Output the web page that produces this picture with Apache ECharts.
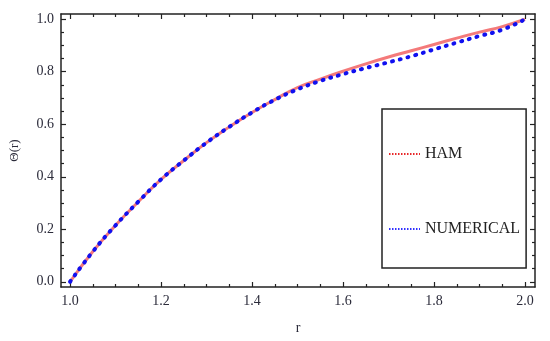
<!DOCTYPE html>
<html>
<head>
<meta charset="utf-8">
<script src="https://cdn.jsdelivr.net/npm/echarts@6/dist/echarts.min.js"></script>
<style>html,body{margin:0;padding:0;background:#fff}#c{width:550px;height:341px}</style>
</head>
<body>
<div id="c"></div>
<script>
// ---- data ----
var rValues = [1.00,1.05,1.10,1.15,1.20,1.25,1.30,1.35,1.40,1.45,1.50,1.55,1.60,1.65,1.70,1.75,1.80,1.85,1.90,1.95,2.00];
var hamValues = [0.000,0.115,0.215,0.305,0.390,0.462,0.530,0.590,0.645,0.694,0.740,0.772,0.802,0.830,0.856,0.880,0.904,0.928,0.951,0.972,1.000];
var numericalValues = [0.000,0.115,0.215,0.305,0.390,0.462,0.530,0.590,0.645,0.693,0.733,0.765,0.791,0.814,0.836,0.859,0.885,0.911,0.936,0.960,1.000];
var xMajorTicks = [1.0,1.2,1.4,1.6,1.8,2.0];
var xMinorTicks = [1.05,1.1,1.15,1.25,1.3,1.35,1.45,1.5,1.55,1.65,1.7,1.75,1.85,1.9,1.95];
var yMajorTicks = [0.0,0.2,0.4,0.6,0.8,1.0];
var yMinorTicks = [0.05,0.1,0.15,0.25,0.3,0.35,0.45,0.5,0.55,0.65,0.7,0.75,0.85,0.9,0.95];
var seriesNames = ['HAM','NUMERICAL'];
var xName = 'r';
var yName = '\u0398(r)';

function pairs(xs, ys){ return xs.map(function(x,i){ return [x, ys[i]]; }); }

var FONT = 'Liberation Serif';
var TXT = '#2b2b3a';
var LINE = '#222';
var XMIN = 0.98, XMAX = 2.022, YMIN = -0.02, YMAX = 1.02;

function xAxisDef(pos, major, labels, name){
  return {
    type:'value', position:pos, min:XMIN, max:XMAX, gridIndex:0,
    name: name || '', nameLocation:'middle', nameGap:34,
    nameTextStyle:{fontFamily:FONT, fontSize:14, color:TXT},
    axisLine:{show:major, onZero:false, lineStyle:{color:LINE, width:1.5}},
    axisTick:{show:true, inside:true, length: major?5:3, customValues: major?xMajorTicks:xMinorTicks, lineStyle:{color:LINE, width:1.2}},
    axisLabel:{show:labels, customValues:xMajorTicks, margin:7, fontFamily:FONT, fontSize:14, color:TXT,
      formatter:function(v){ return v.toFixed(1); }},
    splitLine:{show:false}
  };
}
function yAxisDef(pos, major, labels, name){
  return {
    type:'value', position:pos, min:YMIN, max:YMAX, gridIndex:0,
    name: name || '', nameLocation:'middle', nameGap:40, nameRotate:90,
    nameTextStyle:{fontFamily:FONT, fontSize:13, color:TXT},
    axisLine:{show:major, onZero:false, lineStyle:{color:LINE, width:1.5}},
    axisTick:{show:true, inside:true, length: major?5:3, customValues: major?yMajorTicks:yMinorTicks, lineStyle:{color:LINE, width:1.2}},
    axisLabel:{show:labels, customValues:yMajorTicks, margin:7, fontFamily:FONT, fontSize:14, color:TXT,
      formatter:function(v){ return v.toFixed(1); }},
    splitLine:{show:false}
  };
}

var chart = echarts.init(document.getElementById('c'), null, {renderer:'canvas'});
chart.setOption({
  animation:false,
  backgroundColor:'#fff',
  grid:{left:60, top:14, right:15, bottom:54},
  xAxis:[
    xAxisDef('bottom', true, true, xName),
    xAxisDef('bottom', false, false),
    xAxisDef('top', true, false),
    xAxisDef('top', false, false)
  ],
  yAxis:[
    yAxisDef('left', true, true, yName),
    yAxisDef('left', false, false),
    yAxisDef('right', true, false),
    yAxisDef('right', false, false)
  ],
  legend:{
    orient:'vertical', left:382, top:109,
    padding:[37,6,31,6], itemGap:59,
    itemWidth:31, itemHeight:14,
    borderColor:'#222', borderWidth:1.5, backgroundColor:'#fff',
    textStyle:{fontFamily:FONT, fontSize:16, color:'#222'},
    data:[
      {name:seriesNames[0], itemStyle:{color:'rgba(0,0,0,0)', borderWidth:0, opacity:0}, lineStyle:{color:'#e8282a', width:2, type:[1.5,1.5], cap:'butt'}},
      {name:seriesNames[1], itemStyle:{color:'rgba(0,0,0,0)', borderWidth:0, opacity:0}, lineStyle:{color:'#3030ff', width:2, type:[1.5,1.5], cap:'butt'}}
    ]
  },
  series:[
    {
      name:seriesNames[0], type:'line', xAxisIndex:0, yAxisIndex:0,
      data:pairs(rValues, hamValues), smooth:true, symbol:'none',
      lineStyle:{color:'#f47a7a', width:3},
      itemStyle:{color:'#e8282a'}
    },
    {
      name:seriesNames[1], type:'line', xAxisIndex:0, yAxisIndex:0,
      data:pairs(rValues, numericalValues), smooth:true, symbol:'none',
      lineStyle:{color:'#1010f0', width:4, type:[1,7], cap:'round'},
      itemStyle:{color:'#1010f0'}
    }
  ]
});
</script>
</body>
</html>
